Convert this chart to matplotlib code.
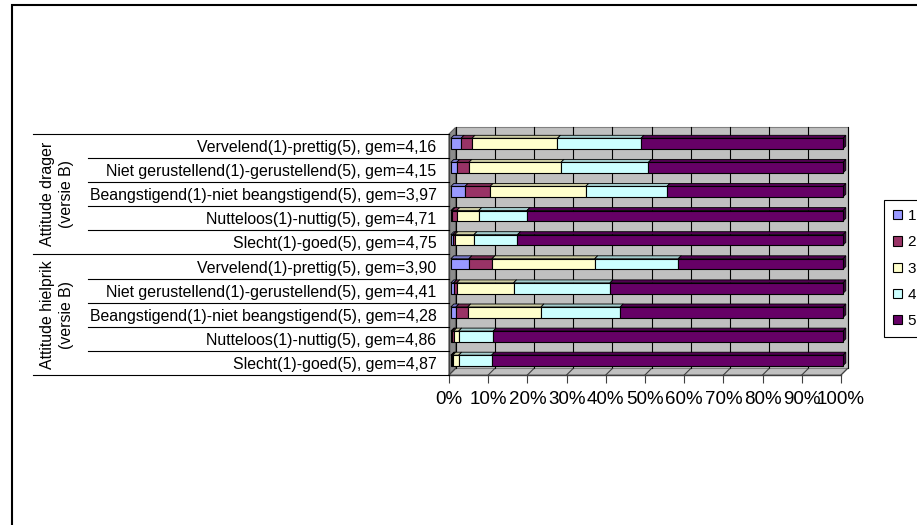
import numpy as np
import matplotlib.pyplot as plt
from matplotlib.patches import Polygon, Rectangle
from matplotlib.transforms import blended_transform_factory

plt.rcParams['font.family'] = ['Liberation Sans', 'DejaVu Sans']

items = [
    "Vervelend(1)-prettig(5), gem=4,16",
    "Niet gerustellend(1)-gerustellend(5), gem=4,15",
    "Beangstigend(1)-niet beangstigend(5), gem=3,97",
    "Nutteloos(1)-nuttig(5), gem=4,71",
    "Slecht(1)-goed(5), gem=4,75",
    "Vervelend(1)-prettig(5), gem=3,90",
    "Niet gerustellend(1)-gerustellend(5), gem=4,41",
    "Beangstigend(1)-niet beangstigend(5), gem=4,28",
    "Nutteloos(1)-nuttig(5), gem=4,86",
    "Slecht(1)-goed(5), gem=4,87",
]
groups = ["Attitude drager\n(versie B)", "Attitude hielprik\n(versie B)"]
score_labels = ["1", "2", "3", "4", "5"]

# percentage of answers per score, one list per score
pct_1 = [2.6, 1.5, 3.6, 0.3, 0.5, 4.6, 0.7, 1.3, 0.3, 0.2]
pct_2 = [2.8, 3.1, 6.4, 1.2, 0.5, 5.9, 0.8, 3.0, 0.4, 0.3]
pct_3 = [21.8, 23.5, 24.4, 5.6, 4.9, 26.2, 14.5, 18.7, 1.3, 1.5]
pct_4 = [21.3, 22.3, 20.7, 12.3, 11.1, 21.3, 24.6, 20.2, 8.8, 8.4]
pct_5 = [51.5, 49.6, 44.9, 80.6, 83.0, 42.0, 59.4, 56.8, 89.2, 89.6]
series = [pct_1, pct_2, pct_3, pct_4, pct_5]
colors = ['#9999FF', '#993366', '#FFFFCC', '#CCFFFF', '#660066']


def shade(c, f):
    r, g, b = [int(c[i:i + 2], 16) / 255 for i in (1, 3, 5)]
    return (r * f, g * f, b * f)


W, H = 917, 525
fig = plt.figure(figsize=(W / 100, H / 100), dpi=100)

# front plane of the 3d box, in pixels
x0, x1, y0, y1 = 449, 841, 134, 375
ax = fig.add_axes([x0 / W, 1 - y1 / H, (x1 - x0) / W, (y1 - y0) / H])
ax.set_xlim(0, 100)
ax.set_ylim(9.5, -0.5)
sx = 100 / (x1 - x0)
sy = 10 / (y1 - y0)


def off(dx, dy):
    # pixels right / up -> data units
    return dx * sx, -dy * sy


wx, wy = off(6.5, 6.5)
n = len(items)
rows = np.arange(n)
ticks = np.arange(0, 101, 10)

# walls and floor
ax.add_patch(Rectangle((wx, -0.5 + wy), 100, n, fc='#C0C0C0', ec='#808080', lw=0.8, zorder=0.1, clip_on=False))
ax.add_patch(Polygon([(0, -0.5), (wx, -0.5 + wy), (wx, 9.5 + wy), (0, 9.5)],
                     fc='#8C8C8C', ec='#606060', lw=0.8, zorder=0.2, clip_on=False))
ax.add_patch(Polygon([(0, 9.5), (100, 9.5), (100 + wx, 9.5 + wy), (wx, 9.5 + wy)],
                     fc='#C0C0C0', ec='#808080', lw=0.8, zorder=0.2, clip_on=False))
for t in ticks:
    ax.plot([t + wx, t + wx], [-0.5 + wy, 9.5 + wy], color='black', lw=0.8, zorder=0.3, clip_on=False)
    ax.plot([t, t + wx], [9.5, 9.5 + wy], color='#404040', lw=0.8, zorder=0.3, clip_on=False)
ax.plot([0, 0], [-0.5, 9.5], color='#404040', lw=1.0, zorder=0.4, clip_on=False)
ax.plot([0, 100], [9.5, 9.5], color='#404040', lw=1.0, zorder=0.4, clip_on=False)

# 3d bars
bx, by = off(1.8, 2.4)
dx, dy = off(3, 3)
h = 10.7 * sy
left = np.zeros(n)
handles = []
for k, vals in enumerate(series):
    vals = np.array(vals)
    z = 1 + k
    for i in rows:
        xl = left[i] + bx
        xr = xl + vals[i]
        yt = i + by - h / 2
        yb = i + by + h / 2
        ax.add_patch(Polygon([(xr, yt), (xr + dx, yt + dy), (xr + dx, yb + dy), (xr, yb)],
                             fc=shade(colors[k], 0.6), ec='black', lw=0.6, zorder=z, clip_on=False))
        ax.add_patch(Polygon([(xl, yt), (xr, yt), (xr + dx, yt + dy), (xl + dx, yt + dy)],
                             fc=shade(colors[k], 0.8), ec='black', lw=0.6, zorder=z, clip_on=False))
    b = ax.barh(rows + by, vals, left=left + bx, height=h, color=colors[k],
                edgecolor='black', linewidth=0.8, zorder=z + 0.5, label=score_labels[k])
    for p in b:
        p.set_clip_on(False)
    handles.append(b)
    left = left + vals

for s in ax.spines.values():
    s.set_visible(False)

ax.set_yticks(rows, items)
ax.tick_params(axis='y', length=0, pad=9, labelsize=11.45)
ax.set_xticks(ticks, [f'{t}%' for t in ticks])
ax.tick_params(axis='x', length=5.8, width=0.8, color='#404040', pad=6, labelsize=13.5)

# category table lines
trans = blended_transform_factory(ax.transAxes, ax.transData)
for j, bnd in enumerate(np.arange(-0.5, n, 1.0)):
    xs = (33 - x0) / (x1 - x0) if j % 5 == 0 else (88 - x0) / (x1 - x0)
    ax.plot([xs, 0], [bnd, bnd], transform=trans, color='black', lw=0.8, clip_on=False)
for g, name in enumerate(groups):
    ax.text((57 - x0) / (x1 - x0), 2 + 5 * g, name, transform=trans, rotation=90,
            ha='center', va='center', multialignment='center', fontsize=11.45, linespacing=1.3)

leg = fig.legend(handles, score_labels, loc='upper left', bbox_to_anchor=(884 / W, 1 - 200 / H),
                 fancybox=False, edgecolor='black', framealpha=1, handlelength=0.55, handleheight=0.55,
                 handletextpad=0.4, labelspacing=0.8, borderpad=0.6, borderaxespad=0, fontsize=11)
leg.get_frame().set_linewidth(0.8)

# chart area border
fig.add_artist(Rectangle((12 / W, -0.1), 1.2, 1 - 5 / H + 0.1, transform=fig.transFigure,
                         fill=False, ec='black', lw=1.5))

fig.savefig('out.png', dpi=100)
